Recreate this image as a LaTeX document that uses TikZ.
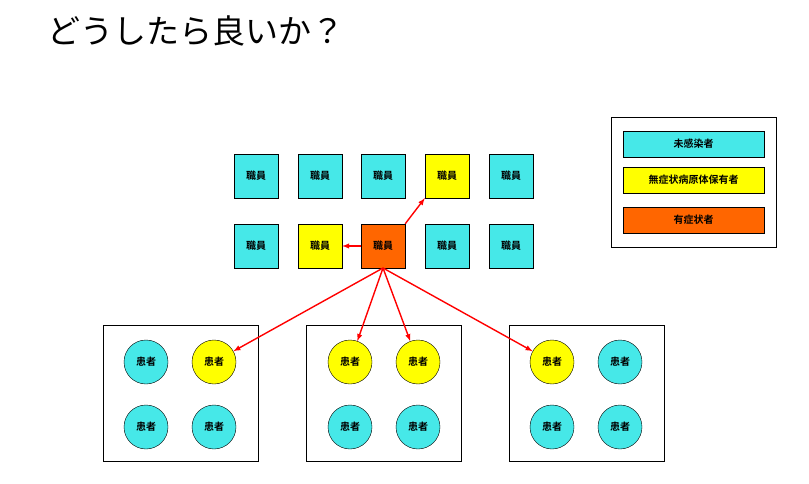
\documentclass[tikz,border=0pt]{standalone}
\usepackage{fontspec}
\newfontfamily\cjk{Noto Sans CJK JP}
\newfontfamily\cjkbold{Noto Sans CJK JP Bold}
\definecolor{healthy}{RGB}{70,232,232}
\definecolor{carrier}{RGB}{255,255,0}
\definecolor{sick}{RGB}{255,102,0}
\tikzset{
  staff/.style={draw, minimum width=44pt, minimum height=44pt, font=\cjkbold\fontsize{10}{10}\selectfont},
  patient/.style={draw, circle, minimum size=44pt, inner sep=0pt, font=\cjkbold\fontsize{10}{10}\selectfont},
  legendbox/.style={draw, minimum width=141pt, minimum height=26pt, font=\cjkbold\fontsize{10}{10}\selectfont},
  spread/.style={red, line width=1.4pt, ->, >=latex}
}
\begin{document}
\begin{tikzpicture}[x=1pt,y=-1pt]
\useasboundingbox[fill=white] (0,0) rectangle (809,484);

\node[anchor=west, font=\cjk\fontsize{33}{33}\selectfont] (title) at (44,31) {どうしたら良いか？};

% staff
\node[staff, fill=healthy] (s11) at (256,176) {職員};
\node[staff, fill=healthy] (s12) at (320,176) {職員};
\node[staff, fill=healthy] (s13) at (383,176) {職員};
\node[staff, fill=carrier] (s14) at (447,176) {職員};
\node[staff, fill=healthy] (s15) at (511,176) {職員};
\node[staff, fill=healthy] (s21) at (256,246) {職員};
\node[staff, fill=carrier] (s22) at (320,246) {職員};
\node[staff, fill=sick]    (s23) at (383,246) {職員};
\node[staff, fill=healthy] (s24) at (447,246) {職員};
\node[staff, fill=healthy] (s25) at (511,246) {職員};

% rooms
\draw (103,325) rectangle (258,461);
\draw (306,325) rectangle (461,461);
\draw (509,325) rectangle (664,461);

\node[patient, fill=healthy] (p11) at (146,362) {患者};
\node[patient, fill=carrier] (p12) at (214,362) {患者};
\node[patient, fill=healthy] (p13) at (146,427) {患者};
\node[patient, fill=healthy] (p14) at (214,427) {患者};
\node[patient, fill=carrier] (p21) at (350,362) {患者};
\node[patient, fill=carrier] (p22) at (418,362) {患者};
\node[patient, fill=healthy] (p23) at (350,427) {患者};
\node[patient, fill=healthy] (p24) at (418,427) {患者};
\node[patient, fill=carrier] (p31) at (552,362) {患者};
\node[patient, fill=healthy] (p32) at (620,362) {患者};
\node[patient, fill=healthy] (p33) at (552,427) {患者};
\node[patient, fill=healthy] (p34) at (620,427) {患者};

% spread
\draw[spread] (s23.north east) -- (s14.south west);
\draw[spread] (s23) -- (s22);
\coordinate (src) at (383,268);
\draw[spread] (src) -- (p12);
\draw[spread] (src) -- (p21);
\draw[spread] (src) -- (p22);
\draw[spread] (src) -- (p31);

% legend
\draw (611,117) rectangle (776,247);
\node[legendbox, fill=healthy] (l1) at (693.5,144) {未感染者};
\node[legendbox, fill=carrier] (l2) at (693.5,180) {無症状病原体保有者};
\node[legendbox, fill=sick]    (l3) at (693.5,220) {有症状者};
\end{tikzpicture}
\end{document}
